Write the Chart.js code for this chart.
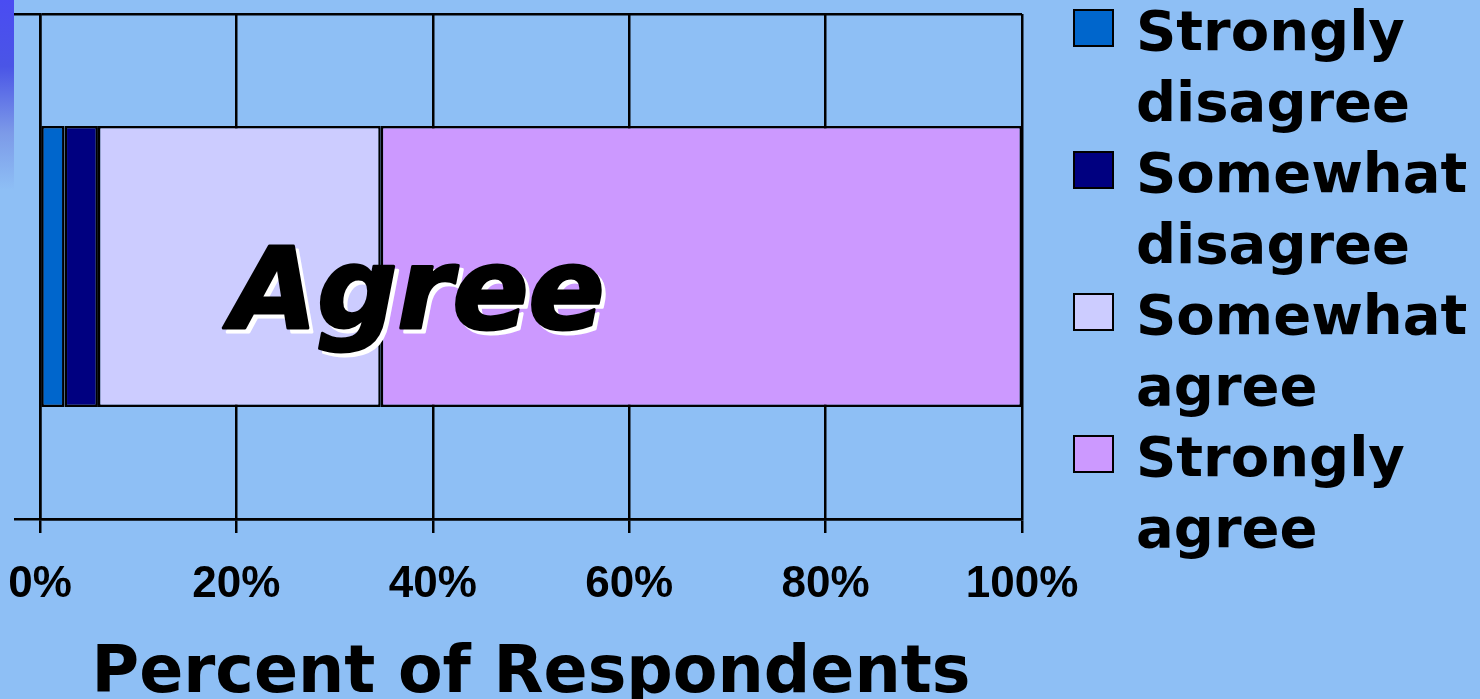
<!DOCTYPE html>
<html>
<head>
<meta charset="utf-8">
<script src="https://cdn.jsdelivr.net/npm/chart.js@4.4.1/dist/chart.umd.min.js"></script>
<style>
    html, body { margin: 0; padding: 0; background: #8ebff5; overflow: hidden; }
    #wrap { position: relative; width: 1480px; height: 699px; }
    #edge { position: absolute; left: 0; top: 0; width: 14px; height: 190px;
        background: linear-gradient(to bottom, #4a4cf2 0%, #4a55e6 35%, #7c9ae8 70%, #8ebff5 100%); }
    #legend { position: absolute; left: 1073px; top: -5px; font-family: "DejaVu Sans", sans-serif;
        font-weight: bold; font-size: 56px; line-height: 71px; color: #000; }
    .item { position: relative; padding-left: 63px; white-space: pre-line; }
    .box { position: absolute; left: 0; top: 14px; width: 37px; height: 34px; border: 2px solid #000; }
</style>
</head>
<body>
<div id="wrap">
    <canvas id="myChart1" width="1480" height="699"></canvas>
    <div id="edge"></div>
    <div id="legend"></div>
</div>
<script>
const categories = ['Agree'];
const seriesNames = ['Strongly disagree', 'Somewhat disagree', 'Somewhat agree', 'Strongly agree'];
const seriesValues = [2.5, 3.4, 28.8, 65.3];
const seriesColors = ['#0066cc', '#000080', '#ccccff', '#cc99ff'];
const xTicks = [0, 20, 40, 60, 80, 100];

// big italic category label inside the bar
const agreeLabel = {
    id: 'agreeLabel',
    afterDatasetsDraw(chart) {
        const ctx = chart.ctx;
        const x = chart.scales.x.getPixelForValue(19.4);
        const y = chart.scales.y.getPixelForValue(0) + 32;
        ctx.save();
        ctx.font = 'italic bold 112px "DejaVu Sans"';
        ctx.textBaseline = 'middle';
        ctx.textAlign = 'left';
        ctx.lineJoin = 'round';
        ctx.lineWidth = 3;
        ctx.fillStyle = '#ffffff';
        ctx.strokeStyle = '#ffffff';
        ctx.strokeText(categories[0], x + 4, y + 4);
        ctx.fillText(categories[0], x + 4, y + 4);
        ctx.fillStyle = '#000000';
        ctx.strokeStyle = '#000000';
        ctx.strokeText(categories[0], x, y);
        ctx.fillText(categories[0], x, y);
        ctx.restore();
    }
};

const ctx1 = document.getElementById('myChart1').getContext('2d');
const myChart1 = new Chart(ctx1, {
    type: 'bar',
    data: {
        labels: categories,
        datasets: seriesNames.map((name, i) => ({
            label: name,
            data: [seriesValues[i]],
            backgroundColor: seriesColors[i],
            borderColor: '#000000',
            borderWidth: 2.5,
            borderSkipped: false,
            barPercentage: 0.556,
            categoryPercentage: 1
        }))
    },
    options: {
        indexAxis: 'y',
        responsive: false,
        animation: false,
        layout: { padding: { left: 14, top: 14, right: 458, bottom: 0 } },
        plugins: {
            legend: { display: false },
            tooltip: { enabled: false }
        },
        scales: {
            x: {
                stacked: true,
                min: 0,
                max: 100,
                afterBuildTicks: (scale) => { scale.ticks = xTicks.map(v => ({ value: v })); },
                afterFit: (scale) => {
                    scale.height = 180;
                    scale.paddingLeft = 0;
                    scale.paddingRight = 0;
                },
                grid: { color: '#000000', lineWidth: 2.5, tickLength: 14 },
                border: { color: '#000000', width: 2.5 },
                ticks: {
                    color: '#000000',
                    padding: 25,
                    maxRotation: 0,
                    font: { family: '"Liberation Sans", Arial, sans-serif', weight: 'bold', size: 44 },
                    callback: (v) => v + '%'
                },
                title: {
                    display: true,
                    text: 'Percent of Respondents',
                    color: '#000000',
                    padding: { top: 24, bottom: 0 },
                    font: { family: '"DejaVu Sans", sans-serif', weight: 'bold', size: 65, lineHeight: 0.725 }
                }
            },
            y: {
                stacked: true,
                afterFit: (scale) => { scale.width = 26; },
                grid: { color: '#000000', lineWidth: 2.5, tickLength: 26, offset: true },
                border: { color: '#000000', width: 2.5 },
                ticks: { display: false }
            }
        }
    },
    plugins: [agreeLabel]
});

// legend built from the datasets
const legendEl = document.getElementById('legend');
myChart1.data.datasets.forEach(ds => {
    const item = document.createElement('div');
    item.className = 'item';
    const box = document.createElement('span');
    box.className = 'box';
    box.style.background = ds.backgroundColor;
    item.appendChild(box);
    item.appendChild(document.createTextNode(ds.label.replace(' ', '\n')));
    legendEl.appendChild(item);
});
</script>
</body>
</html>
